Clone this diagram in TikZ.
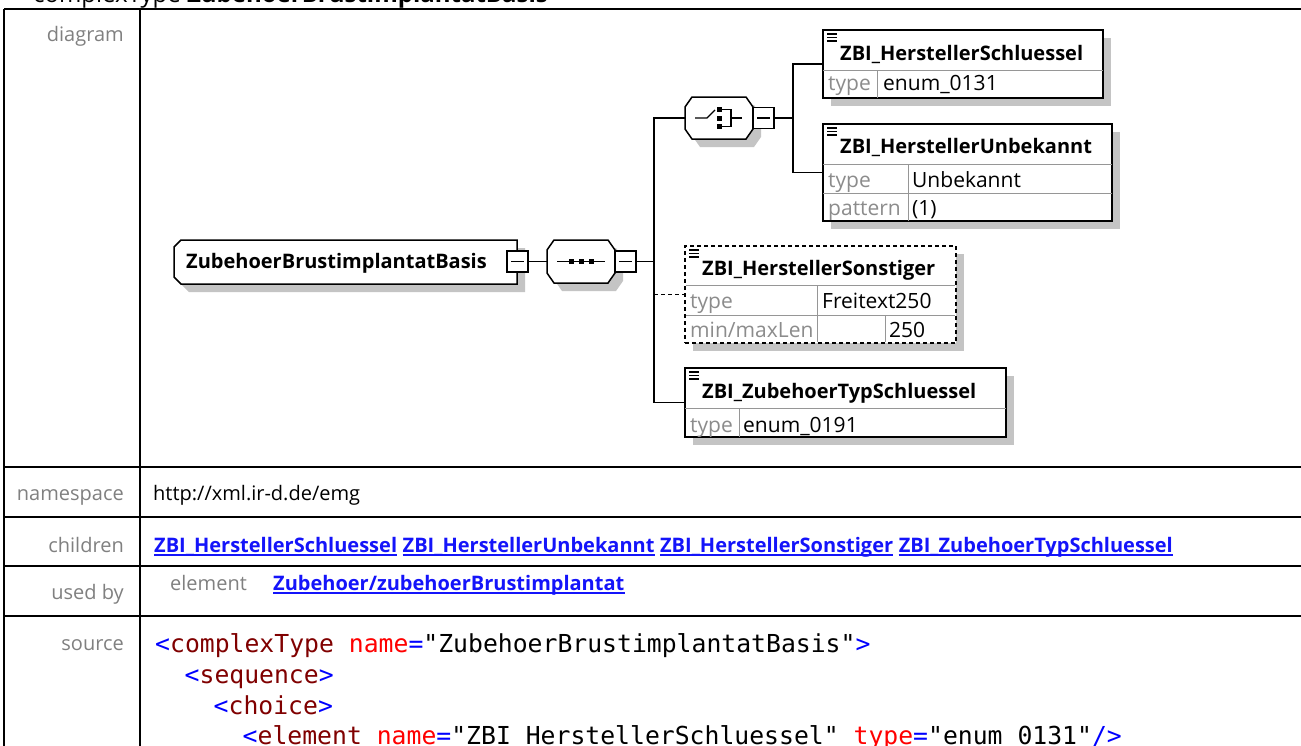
\documentclass[tikz,border=0pt]{standalone}
\usepackage{fontspec}
\setmainfont{Open Sans}
\setmonofont{DejaVu Sans Mono}
\usetikzlibrary{shadows}
\definecolor{shadowgray}{RGB}{196,196,196}
\definecolor{lblgray}{RGB}{128,128,128}
\definecolor{typegray}{RGB}{140,140,140}
\definecolor{divgray}{RGB}{150,150,150}
\definecolor{linkblue}{RGB}{20,20,250}
\definecolor{codeblue}{RGB}{0,0,255}
\definecolor{codered}{RGB}{255,0,0}
\definecolor{codemaroon}{RGB}{128,0,0}
\newcommand\myfs[1]{\fontsize{#1}{#1}\selectfont}
\newcommand\octa[6]{%
  \fill[shadowgray, shift={(8,8)}] ({#1+#5},#2) -- ({#3-#5},#2) -- (#3,{#2+#6}) -- (#3,{#4-#6}) -- ({#3-#5},#4) -- ({#1+#5},#4) -- (#1,{#4-#6}) -- (#1,{#2+#6}) -- cycle;
  \draw[line width=1.5pt, fill=white] ({#1+#5},#2) -- ({#3-#5},#2) -- (#3,{#2+#6}) -- (#3,{#4-#6}) -- ({#3-#5},#4) -- ({#1+#5},#4) -- (#1,{#4-#6}) -- (#1,{#2+#6}) -- cycle;}
\newcommand\hdricon[2]{%
  \draw[line width=1.2pt] (#1,{#2+4}) -- ({#1+10},{#2+4}) (#1,{#2+7.5}) -- ({#1+10},{#2+7.5}) (#1,{#2+11}) -- ({#1+10},{#2+11});}
\tikzset{
  lbl/.style={anchor=base east, inner sep=0, text=lblgray, font=\myfs{20}},
  txt/.style={anchor=base west, inner sep=0, font=\myfs{20}},
  nm/.style={anchor=base west, inner sep=0, font=\myfs{20}\bfseries},
  tl/.style={anchor=base west, inner sep=0, font=\myfs{21}, text=typegray},
  tv/.style={anchor=base west, inner sep=0, font=\myfs{21}},
  lnk/.style={anchor=base west, inner sep=0, font=\myfs{20}\bfseries, text=linkblue},
  code/.style={anchor=base west, inner sep=0, font=\ttfamily\myfs{24.75}},
  tbl/.style={line width=2.5pt},
  conn/.style={line width=1.5pt},
  box/.style={draw, line width=1.5pt, fill=white, inner sep=0, outer sep=0, anchor=north west,
    drop shadow={shadow xshift=8pt, shadow yshift=-8pt, fill=shadowgray, opacity=1}},
  ghost/.style={inner sep=0, outer sep=0, anchor=north west},
  div/.style={draw=divgray, line width=1pt},
  mbox/.style={draw, line width=1.3pt, fill=white, minimum width=21, minimum height=21, inner sep=0, outer sep=0, anchor=north west},
  uline/.style={linkblue, line width=1.6pt},
}
\newcommand\codeB[1]{{\color{codeblue}#1}}
\newcommand\codeM[1]{{\color{codemaroon}#1}}
\newcommand\codeR[1]{{\color{codered}#1}}
\begin{document}
\begin{tikzpicture}[x=1pt,y=-1pt]
\useasboundingbox (0,0) rectangle (1301,745);
\fill[white] (0,0) rectangle (1301,745);

% title
\node[anchor=base west, inner sep=0, font=\myfs{24}] (title) at (33,2) {complexType \textbf{ZubehoerBrustimplantatBasis}};

% table
\draw[tbl] (4,9) -- (1305,9);
\draw[tbl] (4,9) -- (4,750);
\draw[tbl] (140,9) -- (140,750);
\draw[tbl] (4,467) -- (1305,467);
\draw[tbl] (4,517) -- (1305,517);
\draw[tbl] (4,566) -- (1305,566);
\draw[tbl] (4,616) -- (1305,616);

\node[lbl] (ldiag) at (124,41) {diagram};
\node[lbl] (lns) at (124,500) {namespace};
\node[lbl] (lch) at (124,552) {children};
\node[lbl] (lub) at (124,599) {used by};
\node[lbl] (lsrc) at (124,650) {source};

% namespace
\node[txt] (ns) at (153,500) {http://xml.ir-d.de/emg};

% children
\node[lnk] (c1) at (154,552) {ZBI\_HerstellerSchluessel};
\node[lnk] (c2) at ([xshift=5.2pt]c1.base east) {ZBI\_HerstellerUnbekannt};
\node[lnk] (c3) at ([xshift=5.2pt]c2.base east) {ZBI\_HerstellerSonstiger};
\node[lnk] (c4) at ([xshift=5.2pt]c3.base east) {ZBI\_ZubehoerTypSchluessel};
\foreach \n in {c1,c2,c3,c4}{\draw[uline] ([yshift=-3pt]\n.base west) -- ([yshift=-3pt]\n.base east);}

% used by
\node[txt, text=lblgray] (ubel) at (170,590) {element};
\node[lnk] (ublink) at (273,590) {Zubehoer/zubehoerBrustimplantat};
\draw[uline] ([yshift=-3pt]ublink.base west) -- ([yshift=-3pt]ublink.base east);

% source
\node[code] (s1) at (155,652) {\codeB{<}\codeM{complexType} \codeR{name}\codeB{=}"ZubehoerBrustimplantatBasis"\codeB{>}};
\node[code] (s2) at (184.5,683) {\codeB{<}\codeM{sequence}\codeB{>}};
\node[code] (s3) at (213.5,714) {\codeB{<}\codeM{choice}\codeB{>}};
\node[code] (s4) at (242.5,744) {\codeB{<}\codeM{element} \codeR{name}\codeB{=}"ZBI\_HerstellerSchluessel" \codeR{type}\codeB{=}"enum\_0131"\codeB{/>}};

% ---------------- diagram ----------------
% root
\fill[shadowgray, shift={(8,8)}] (181,240) -- (517,240) -- (517,284) -- (181,284) -- (174,277) -- (174,247) -- cycle;
\draw[line width=1.5pt, fill=white] (181,240) -- (517,240) -- (517,284) -- (181,284) -- (174,277) -- (174,247) -- cycle;
\node[ghost, minimum width=343, minimum height=44] (root) at (174,240) {};
\node[nm] (rootlbl) at (186,268) {ZubehoerBrustimplantatBasis};
\node[mbox] (rm) at (507,251) {};
\draw[line width=1.3pt] ([xshift=4pt]rm.west) -- ([xshift=-4pt]rm.east);

% sequence
\octa{547}{240}{615}{283}{7}{10}
\node[ghost, minimum width=68, minimum height=43] (seq) at (547,240) {};
\draw[line width=1.3pt] (557,261.5) -- (605,261.5);
\foreach \cx in {571,581,591}{\fill ({\cx-2.5},259) rectangle ({\cx+2.5},264);}
\node[mbox] (sm) at (615,251) {};
\draw[line width=1.3pt] ([xshift=4pt]sm.west) -- ([xshift=-4pt]sm.east);

% choice
\octa{685}{97}{753}{139}{7}{10}
\node[ghost, minimum width=68, minimum height=42] (ch) at (685,97) {};
\draw[line width=1.3pt] (695,118) -- (707,118) -- (715,110);
\fill (717,107) rectangle (722,112);
\fill (717,115.5) rectangle (722,120.5);
\fill (717,124) rectangle (722,129);
\draw[line width=1.3pt] (722,109.5) -- (731,109.5) -- (731,126.5) -- (722,126.5) (731,118) -- (742,118);
\node[mbox] (cm) at (753,107.5) {};
\draw[line width=1.3pt] ([xshift=4pt]cm.west) -- ([xshift=-4pt]cm.east);

% element 1
\node[box, minimum width=280, minimum height=68] (e1) at (823,30) {};
\draw[div] (823,70) -- (1103,70) (877,70) -- (877,98);
\hdricon{827}{30}
\node[nm] (e1n) at (840,60) {ZBI\_HerstellerSchluessel};
\node[tl] (e1t) at (828,90) {type};
\node[tv] (e1v) at (883,90) {enum\_0131};

% element 2
\node[box, minimum width=289, minimum height=97] (e2) at (823,124) {};
\draw[div] (823,164) -- (1112,164) (823,193) -- (1112,193) (908,164) -- (908,221);
\hdricon{827}{124}
\node[nm] (e2n) at (840,153) {ZBI\_HerstellerUnbekannt};
\node[tl] (e2t) at (828,187) {type};
\node[tv] (e2v) at (912,187) {Unbekannt};
\node[tl] (e2p) at (828,215) {pattern};
\node[tv] (e2pv) at (912,215) {(1)};

% element 3 (optional, dashed)
\node[box, dash pattern=on 4pt off 3pt, minimum width=271, minimum height=97] (e3) at (685,246) {};
\draw[div] (686,285) -- (955,285) (686,315) -- (955,315) (817,285) -- (817,342) (885,315) -- (885,342);
\hdricon{689}{246}
\node[nm] (e3n) at (702,275) {ZBI\_HerstellerSonstiger};
\node[tl] (e3t) at (690,308) {type};
\node[tv] (e3v) at (822,308) {Freitext250};
\node[tl] (e3m) at (690,337) {min/maxLen};
\node[tv] (e3mv) at (889,337) {250};

% element 4
\node[box, minimum width=321, minimum height=69] (e4) at (685,368) {};
\draw[div] (685,408) -- (1006,408) (739,408) -- (739,437);
\hdricon{689}{368}
\node[nm] (e4n) at (702,398) {ZBI\_ZubehoerTypSchluessel};
\node[tl] (e4t) at (690,432) {type};
\node[tv] (e4v) at (743,432) {enum\_0191};

% connectors
\coordinate (bus) at (654,261.5);
\coordinate (cbus) at (793,118);
\draw[conn] (rm.east) -- (seq.west);
\draw[conn] (sm.east) -- (bus);
\draw[conn] (ch.west) -| (bus) |- (e4.west);
\draw[conn, dash pattern=on 4pt off 3pt] (bus |- e3.west) -- (e3.west);
\draw[conn] (cm.east) -- (cbus);
\draw[conn] (e1.west) -| (cbus) |- (e2.west);
\end{tikzpicture}
\end{document}
